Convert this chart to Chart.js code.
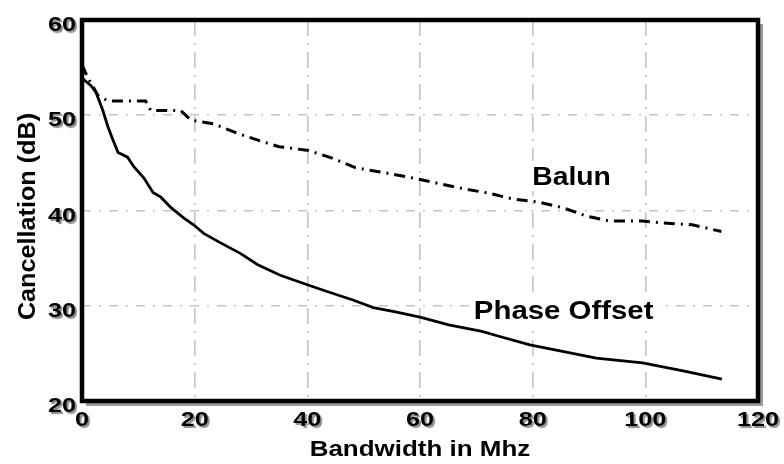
<!DOCTYPE html>
<html>
<head>
<meta charset="utf-8">
<script src="https://cdn.jsdelivr.net/npm/chart.js@4/dist/chart.umd.min.js"></script>
<style>
  html, body { margin: 0; padding: 0; background: #fff; }
  #wrap { position: relative; width: 784px; height: 464px; }
</style>
</head>
<body>
<div id="wrap"><canvas id="chart"></canvas></div>
<script>
// Measured cancellation vs. bandwidth for the two hybrid types.
const phaseFreq = [0, 0.4, 1.6, 2.5, 3.0, 3.7, 4.6, 5.5, 6.4, 8.1, 9.2, 11.0, 12.6, 14.0, 15.8, 18.1,
  19.8, 21.6, 24.6, 28.1, 31.2, 35.2, 40.0, 43.5, 48.1, 51.7, 55.2, 60.0, 65.1, 71.0, 74.0, 79.5,
  85.3, 91.3, 99.5, 106.5, 113.6];
const phaseCancel = [53.9, 53.7, 53.1, 52.4, 51.6, 50.5, 48.8, 47.4, 46.1, 45.6, 44.6, 43.4, 41.9, 41.4, 40.3, 39.2,
  38.5, 37.6, 36.6, 35.5, 34.3, 33.2, 32.2, 31.5, 30.6, 29.8, 29.4, 28.8, 28.0, 27.3, 26.8, 25.9,
  25.2, 24.5, 24.0, 23.2, 22.3];

const balunFreq = [0, 1.0, 2.8, 4.6, 11.3, 12.2, 17.5, 19.3, 23.4, 27.6, 32.2, 35.0, 40.2, 44.4, 48.5,
  54.3, 58.8, 63.6, 67.6, 72.4, 76.5, 80.9, 85.3, 89.6, 93.6, 99.5, 103.0, 108.3, 113.5];
const balunCancel = [55.3, 54.0, 52.1, 51.5, 51.5, 50.5, 50.5, 49.5, 49.1, 48.1, 47.2, 46.7, 46.3, 45.5, 44.5,
  43.9, 43.4, 42.8, 42.3, 41.8, 41.2, 40.9, 40.3, 39.4, 38.9, 38.9, 38.7, 38.5, 37.8];

const xTicks = [0, 20, 40, 60, 80, 100, 120];
const yTicks = [20, 30, 40, 50, 60];

// in-plot curve names, anchored in data units
const curveNames = ["Balun", "Phase Offset"];
const curveNameX = [86.9, 85.5];
const curveNameY = [42.7, 28.6];

const FONT = '"Liberation Sans", Arial, Helvetica, sans-serif';

function toPoints(xs, ys) {
  return xs.map((x, i) => ({ x: x, y: ys[i] }));
}

// Draw text widened horizontally around its anchor.
function wideText(ctx, text, x, y, sx, align) {
  ctx.save();
  ctx.translate(x, y);
  ctx.scale(sx, 1);
  ctx.textAlign = align;
  ctx.textBaseline = "alphabetic";
  ctx.fillText(text, 0, 0);
  ctx.restore();
}

const framePlugin = {
  id: "frame",
  afterDraw(chart) {
    const ctx = chart.ctx;
    const a = chart.chartArea;
    const xs = chart.scales.x;
    const ys = chart.scales.y;

    // curve names on white patches
    ctx.font = "bold 26px " + FONT;
    curveNames.forEach((name, i) => {
      const px = xs.getPixelForValue(curveNameX[i]);
      const py = ys.getPixelForValue(curveNameY[i]);
      const sx = i === 0 ? 1.09 : 1.13;
      const w = ctx.measureText(name).width * sx;
      ctx.fillStyle = "#fff";
      ctx.fillRect(px - w / 2 - 4, py - 24, w + 8, 30);
      ctx.fillStyle = "#000";
      wideText(ctx, name, px, py, sx, "center");
    });

    // plot frame with a soft drop shadow
    ctx.save();
    ctx.strokeStyle = "#9a9a9a";
    ctx.lineWidth = 3;
    ctx.beginPath();
    ctx.moveTo(a.right + 3.5, a.top + 4);
    ctx.lineTo(a.right + 3.5, a.bottom + 3.5);
    ctx.lineTo(a.left + 4, a.bottom + 3.5);
    ctx.stroke();
    ctx.strokeStyle = "#000";
    ctx.lineWidth = 4.5;
    ctx.strokeRect(a.left, a.top, a.right - a.left, a.bottom - a.top);
    ctx.restore();

    // tick labels with grey shadow
    ctx.save();
    ctx.font = "bold 21px " + FONT;
    ctx.fillStyle = "#000";
    ctx.shadowColor = "rgba(0,0,0,0.45)";
    ctx.shadowOffsetX = 2;
    ctx.shadowOffsetY = 2;
    ctx.shadowBlur = 1;
    xTicks.forEach(v => wideText(ctx, String(v), xs.getPixelForValue(v), a.bottom + 25, 1.2, "center"));
    yTicks.forEach(v => wideText(ctx, String(v), a.left - 6, ys.getPixelForValue(v) + 11, 1.2, "right"));
    ctx.restore();

    // axis titles
    ctx.save();
    ctx.fillStyle = "#000";
    ctx.font = "bold 22px " + FONT;
    wideText(ctx, "Bandwidth in Mhz", (a.left + a.right) / 2, 456, 1.18, "center");
    ctx.font = "bold 24px " + FONT;
    ctx.translate(35, (a.top + a.bottom) / 2 + 6);
    ctx.rotate(-Math.PI / 2);
    wideText(ctx, "Cancellation (dB)", 0, 0, 1.05, "center");
    ctx.restore();
  }
};

new Chart(document.getElementById("chart"), {
  type: "line",
  data: {
    datasets: [
      {
        label: "Balun",
        data: toPoints(balunFreq, balunCancel),
        borderColor: "#000",
        borderWidth: 3,
        borderDash: [11, 6, 2, 6],
        pointRadius: 0,
        tension: 0,
        fill: false
      },
      {
        label: "Phase Offset",
        data: toPoints(phaseFreq, phaseCancel),
        borderColor: "#000",
        borderWidth: 2.8,
        pointRadius: 0,
        tension: 0,
        fill: false
      }
    ]
  },
  options: {
    responsive: true,
    maintainAspectRatio: false,
    animation: false,
    layout: { padding: { left: 82, top: 20, right: 26, bottom: 63 } },
    plugins: {
      legend: { display: false },
      tooltip: { enabled: false }
    },
    scales: {
      x: {
        type: "linear",
        min: 0,
        max: 120,
        ticks: { display: false, stepSize: 20 },
        grid: { color: "#c4c4c4", lineWidth: 1.6, drawTicks: false },
        border: { display: false, dash: [16, 7, 2, 7] }
      },
      y: {
        min: 20,
        max: 60,
        ticks: { display: false, stepSize: 10 },
        grid: { color: "#c4c4c4", lineWidth: 1.6, drawTicks: false },
        border: { display: false, dash: [9, 8, 2, 8] }
      }
    }
  },
  plugins: [framePlugin]
});
</script>
</body>
</html>
